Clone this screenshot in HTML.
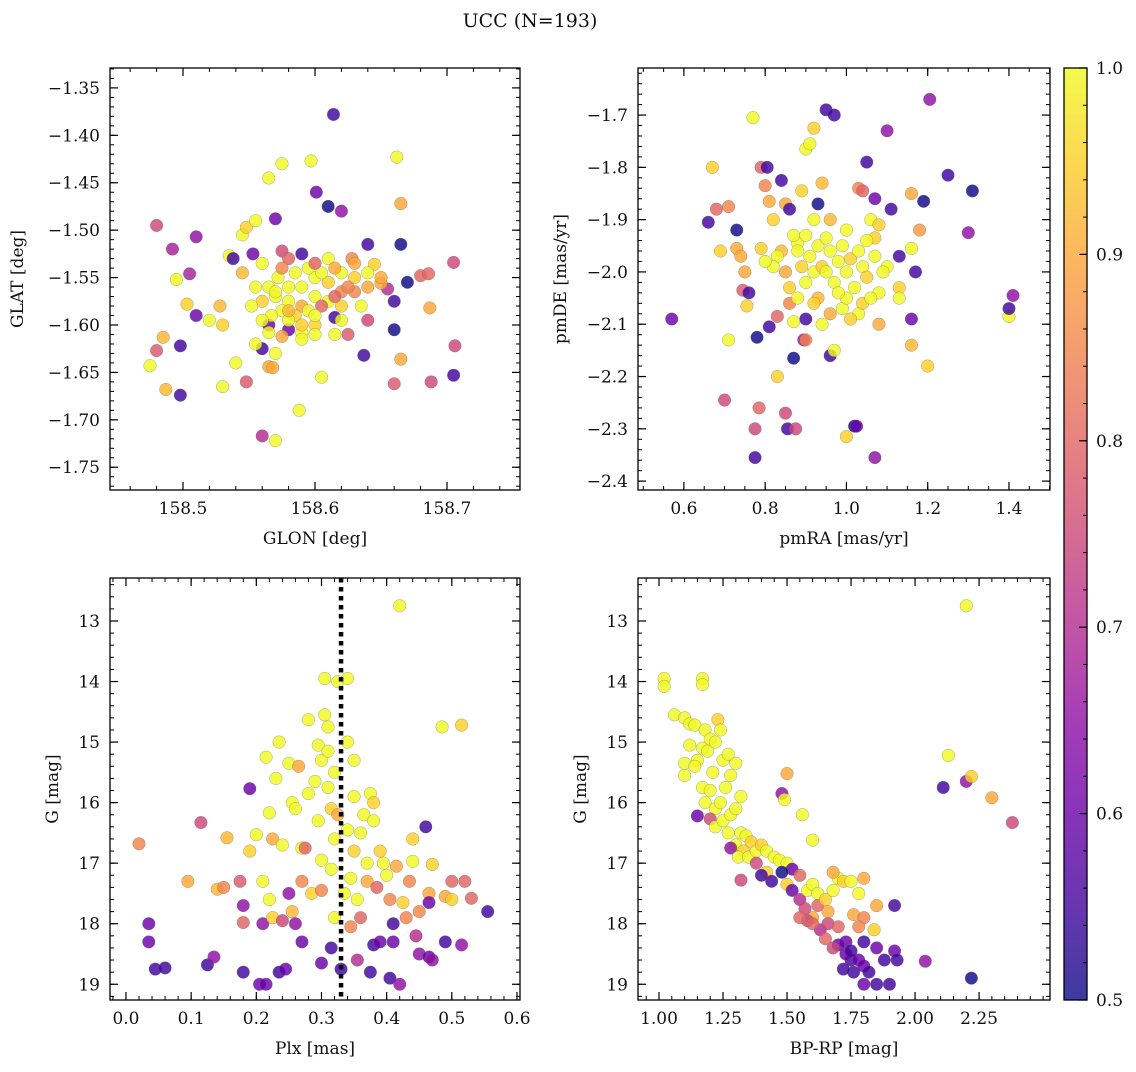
<!DOCTYPE html>
<html><head><meta charset="utf-8"><style>
html,body{margin:0;padding:0;background:#fff;}
svg text{font-family:"DejaVu Serif","Liberation Serif",serif;fill:#111;}
</style></head><body>
<svg id="fig" width="1136" height="1067" viewBox="0 0 1136 1067" xmlns="http://www.w3.org/2000/svg">
<text x="530" y="27" text-anchor="middle" font-size="19">UCC (N=193)</text>
</svg>
<script>
// ---- data ----
const tlPoints = [[158.48,-1.495,.75],[158.614,-1.378,.55],[158.565,-1.445,1],[158.575,-1.43,1],[158.597,-1.427,1],[158.662,-1.423,1],[158.665,-1.472,.9],[158.57,-1.488,.6],[158.601,-1.46,.6],[158.61,-1.475,.5],[158.62,-1.48,.65],[158.64,-1.515,.55],[158.665,-1.515,.5],[158.492,-1.52,.68],[158.51,-1.507,.65],[158.495,-1.552,1],[158.505,-1.546,.68],[158.535,-1.527,1],[158.545,-1.505,1],[158.548,-1.497,.95],[158.555,-1.49,1],[158.538,-1.53,.55],[158.545,-1.545,.92],[158.553,-1.525,.6],[158.575,-1.522,.75],[158.56,-1.535,1],[158.58,-1.53,.8],[158.59,-1.525,.55],[158.61,-1.53,1],[158.628,-1.53,.85],[158.645,-1.536,.95],[158.67,-1.555,.5],[158.68,-1.548,.8],[158.686,-1.546,.8],[158.687,-1.582,.9],[158.705,-1.534,.75],[158.706,-1.622,.75],[158.705,-1.653,.55],[158.688,-1.66,.75],[158.66,-1.662,.78],[158.665,-1.636,.9],[158.66,-1.605,.5],[158.655,-1.562,.7],[158.66,-1.575,.55],[158.64,-1.595,.75],[158.637,-1.632,.55],[158.625,-1.61,.78],[158.615,-1.61,1],[158.615,-1.592,.55],[158.605,-1.655,1],[158.58,-1.605,.6],[158.565,-1.6,.6],[158.56,-1.625,.55],[158.555,-1.62,1],[158.54,-1.64,1],[158.53,-1.6,.95],[158.528,-1.58,.92],[158.52,-1.595,1],[158.51,-1.59,.6],[158.503,-1.578,.95],[158.498,-1.622,.55],[158.498,-1.674,.55],[158.487,-1.668,.92],[158.475,-1.643,1],[158.48,-1.627,.78],[158.485,-1.613,.92],[158.53,-1.665,1],[158.548,-1.66,.78],[158.565,-1.644,.9],[158.568,-1.645,.9],[158.57,-1.63,1],[158.56,-1.717,.7],[158.57,-1.722,1],[158.588,-1.69,1],[158.575,-1.612,.9],[158.565,-1.608,1],[158.59,-1.608,1],[158.6,-1.6,.95],[158.62,-1.58,.95],[158.63,-1.565,.85],[158.64,-1.56,.9],[158.65,-1.556,.9],[158.565,-1.56,1],[158.572,-1.55,1],[158.58,-1.56,1],[158.59,-1.56,1],[158.6,-1.55,1],[158.61,-1.555,.95],[158.62,-1.545,1],[158.63,-1.55,.95],[158.57,-1.57,1],[158.58,-1.575,1],[158.59,-1.58,.9],[158.6,-1.57,1],[158.61,-1.575,1],[158.62,-1.565,.85],[158.575,-1.585,1],[158.585,-1.59,.95],[158.595,-1.585,1],[158.605,-1.58,.8],[158.615,-1.57,.8],[158.625,-1.56,.85],[158.567,-1.59,1],[158.58,-1.595,1],[158.59,-1.6,.95],[158.6,-1.59,1],[158.56,-1.575,.95],[158.555,-1.56,1],[158.575,-1.54,.85],[158.585,-1.545,1],[158.595,-1.54,1],[158.605,-1.545,1],[158.615,-1.54,.9],[158.64,-1.545,1],[158.65,-1.55,.9],[158.552,-1.58,1],[158.56,-1.595,1],[158.6,-1.61,1],[158.59,-1.615,1],[158.62,-1.595,1],[158.635,-1.58,1],[158.57,-1.565,1],[158.58,-1.585,.92],[158.63,-1.535,.9],[158.6,-1.535,.8]];
const trPoints = [[0.57,-2.09,.6],[0.67,-1.8,.95],[0.68,-1.88,.8],[0.66,-1.905,.55],[0.69,-1.96,.95],[0.70,-2.245,.75],[0.71,-2.13,1],[0.71,-1.875,.85],[0.73,-1.92,.5],[0.73,-1.955,.9],[0.74,-1.97,.9],[0.745,-2.035,.78],[0.75,-2.0,.9],[0.755,-2.065,.95],[0.77,-1.705,1],[0.76,-2.04,.55],[0.775,-2.355,.55],[0.775,-2.3,.75],[0.785,-2.26,.8],[0.78,-2.125,.5],[0.79,-1.955,.95],[0.79,-1.8,.8],[0.8,-1.835,.85],[0.805,-1.8,.55],[0.81,-1.865,.9],[0.81,-2.105,.55],[0.82,-1.9,.95],[0.83,-2.085,.8],[0.83,-2.2,.95],[0.84,-1.825,.55],[0.85,-1.87,.9],[0.85,-2.27,.75],[0.855,-2.3,.55],[0.86,-1.88,.55],[0.87,-2.165,.5],[0.875,-2.3,.75],[0.88,-1.945,1],[0.89,-1.845,.95],[0.895,-2.13,.65],[0.9,-2.09,.55],[0.9,-1.765,1],[0.91,-1.755,1],[0.92,-1.725,.95],[0.93,-1.87,.5],[0.94,-1.83,.92],[0.95,-1.69,.55],[0.96,-2.16,.55],[0.97,-1.7,.55],[0.97,-2.15,1],[1.0,-2.315,.95],[1.02,-2.295,.5],[1.025,-2.295,.6],[1.03,-1.84,.85],[1.04,-1.845,.8],[1.05,-1.79,.55],[1.07,-1.935,.95],[1.07,-1.86,.6],[1.07,-2.355,.65],[1.1,-1.73,.65],[1.11,-1.88,.55],[1.1,-1.99,1],[1.13,-1.97,.55],[1.16,-1.85,.9],[1.16,-1.955,1],[1.16,-2.09,.6],[1.16,-2.14,.92],[1.17,-2.0,.55],[1.18,-1.92,.88],[1.19,-1.865,.5],[1.2,-2.18,.95],[1.205,-1.67,.65],[1.25,-1.815,.55],[1.3,-1.925,.65],[1.31,-1.845,.5],[1.4,-2.085,1],[1.4,-2.07,.55],[1.41,-2.045,.65],[0.93,-2.05,.92],[0.86,-2.03,.95],[0.86,-2.06,.85],[0.87,-2.095,1],[0.9,-2.13,.85],[1.13,-2.03,.95],[1.13,-2.05,1],[1.08,-2.04,1],[1.08,-2.1,.9],[0.87,-1.93,1],[0.88,-1.96,1],[0.89,-1.99,.95],[0.9,-1.93,1],[0.91,-1.97,1],[0.92,-2.0,1],[0.93,-1.95,1],[0.94,-1.99,.95],[0.95,-1.935,1],[0.96,-1.96,1],[0.97,-2.02,1],[0.98,-1.98,1],[0.99,-1.95,1],[1.0,-2.0,1],[1.01,-1.975,.95],[1.02,-2.03,1],[1.03,-1.96,1],[1.04,-1.99,1],[1.05,-2.01,.95],[1.06,-1.9,1],[1.07,-1.97,1],[1.03,-2.08,1],[1.01,-2.09,.95],[0.99,-2.07,1],[0.96,-2.08,.9],[0.94,-2.1,1],[0.92,-2.06,.95],[0.9,-2.02,1],[0.85,-2.0,.9],[0.84,-1.96,.92],[0.83,-1.97,1],[0.82,-1.99,1],[0.8,-1.98,1],[0.92,-1.9,1],[0.96,-1.9,.92],[1.0,-1.92,1],[1.05,-1.94,1],[1.08,-1.91,.95],[1.0,-2.05,1],[1.04,-2.06,.95],[0.98,-2.04,1],[0.95,-2.0,1],[0.88,-2.05,1],[1.06,-2.05,1],[1.09,-2.0,1]];
const blPoints = [[0.02,16.68,.85],[0.035,18.0,.6],[0.035,18.3,.6],[0.045,18.75,.55],[0.06,18.73,.55],[0.095,17.3,.9],[0.115,16.33,.75],[0.125,18.68,.55],[0.135,18.55,.65],[0.14,17.43,.92],[0.15,17.4,.85],[0.155,16.58,.92],[0.175,17.3,.78],[0.18,17.7,.65],[0.18,17.98,.8],[0.18,18.8,.55],[0.19,15.77,.6],[0.19,16.8,.95],[0.2,16.53,1],[0.205,19.0,.6],[0.21,17.3,1],[0.21,18.0,.65],[0.215,15.25,1],[0.215,19.0,.6],[0.22,16.17,1],[0.22,17.6,1],[0.225,17.9,.95],[0.225,16.6,.9],[0.23,15.6,1],[0.235,18.8,.55],[0.235,15.0,1],[0.24,16.7,1],[0.24,17.95,.75],[0.245,18.75,.6],[0.25,15.35,1],[0.25,17.5,.65],[0.255,16.0,1],[0.255,17.8,.92],[0.26,16.1,1],[0.26,18.0,.65],[0.265,15.4,.9],[0.27,16.75,1],[0.27,17.3,.85],[0.275,16.75,.8],[0.28,14.63,1],[0.28,15.85,1],[0.285,17.5,.95],[0.29,15.65,1],[0.295,15.05,1],[0.295,16.3,1],[0.3,15.3,1],[0.3,16.95,1],[0.3,17.45,.85],[0.3,18.65,.6],[0.305,13.95,1],[0.305,14.55,1],[0.31,14.75,1],[0.31,15.15,1],[0.31,15.75,1],[0.315,16.1,.95],[0.315,17.1,1],[0.315,18.4,.55],[0.32,15.5,1],[0.32,16.6,1],[0.32,17.9,1],[0.325,14.0,1],[0.325,16.2,.9],[0.33,18.75,.55],[0.335,17.5,1],[0.34,13.95,1],[0.34,15.0,1],[0.34,16.45,1],[0.345,17.25,1],[0.345,18.05,.85],[0.35,15.3,1],[0.35,15.9,1],[0.35,16.8,.95],[0.355,17.6,1],[0.355,18.6,.7],[0.36,16.5,1],[0.36,17.9,.8],[0.365,16.2,1],[0.37,17.0,1],[0.37,17.3,.9],[0.375,15.85,1],[0.375,18.8,.55],[0.38,16.0,.95],[0.38,16.3,1],[0.38,18.35,.55],[0.385,17.4,.8],[0.39,18.3,.6],[0.39,16.8,.95],[0.395,17.0,1],[0.4,17.2,1],[0.405,17.6,.85],[0.405,18.9,.55],[0.41,18.0,.55],[0.41,18.3,.6],[0.415,17.05,.9],[0.42,19.0,.65],[0.42,12.75,1],[0.425,17.65,.95],[0.43,17.9,.85],[0.435,17.3,.85],[0.44,16.6,.95],[0.44,16.97,1],[0.445,18.2,.7],[0.45,18.5,.65],[0.46,16.4,.55],[0.465,17.5,.9],[0.465,17.65,.6],[0.465,18.55,.6],[0.47,17.02,.95],[0.47,18.6,.65],[0.485,14.75,1],[0.49,17.55,.9],[0.49,18.3,.55],[0.5,17.3,.8],[0.515,14.72,.95],[0.515,18.35,.65],[0.52,17.3,.8],[0.53,17.58,.8],[0.555,17.8,.55],[0.5,17.6,.95],[0.45,17.8,.85],[0.27,18.3,.6]];
const brPoints = [[1.02,13.95,1],[1.02,14.08,1],[1.06,14.55,1],[1.1,14.6,1],[1.12,14.7,1],[1.14,14.72,1],[1.17,13.95,1],[1.17,14.05,1],[1.18,14.8,1],[1.12,15.05,1],[1.15,15.3,1],[1.1,15.35,1],[1.1,15.55,1],[1.14,15.4,1],[1.17,15.1,1],[1.19,15.15,1],[1.2,14.95,1],[1.22,15.0,1],[1.23,14.63,.95],[1.24,14.8,1],[1.21,15.5,1],[1.25,15.3,1],[1.27,15.2,1],[1.28,15.55,1],[1.3,15.35,1],[1.17,15.75,1],[1.18,16.0,1],[1.2,15.8,1],[1.22,16.1,1],[1.24,16.0,1],[1.26,15.75,1],[1.15,16.22,.6],[1.2,16.27,.75],[1.22,16.4,1],[1.25,16.3,1],[1.28,16.2,1],[1.3,16.1,1],[1.32,15.9,1],[1.27,16.5,1],[1.3,16.7,1],[1.32,16.5,1],[1.34,16.55,1],[1.36,16.65,.95],[1.33,16.8,.95],[1.28,16.75,.65],[1.31,16.9,1],[1.35,16.9,1],[1.38,16.8,1],[1.4,16.7,.95],[1.42,16.8,1],[1.45,16.9,1],[1.47,16.95,1],[1.48,15.85,.65],[1.49,15.95,1],[1.5,15.52,.9],[1.5,17.0,1],[1.52,17.1,.6],[1.55,17.2,.8],[1.56,16.2,1],[1.6,16.62,1],[1.38,17.0,.75],[1.42,17.15,.95],[1.44,17.3,.55],[1.32,17.28,.75],[1.4,17.2,.55],[1.48,17.15,.5],[1.5,17.35,.95],[1.52,17.45,.6],[1.55,17.6,.7],[1.58,17.45,1],[1.6,17.35,1],[1.62,17.5,1],[1.62,17.7,.8],[1.6,17.9,.9],[1.58,17.95,.75],[1.57,17.75,.75],[1.65,17.6,.95],[1.66,17.8,.9],[1.68,17.45,1],[1.7,17.25,1],[1.72,17.3,.95],[1.68,17.15,.9],[1.75,17.3,1],[1.78,17.5,1],[1.8,17.25,.9],[1.85,17.7,.9],[1.92,17.7,.55],[1.76,17.85,.9],[1.8,17.9,.85],[1.63,18.1,.7],[1.66,18.0,.75],[1.7,18.05,.8],[1.73,18.3,.6],[1.78,18.05,.85],[1.8,18.3,.55],[1.84,18.1,.95],[1.85,18.4,.6],[1.7,18.35,.6],[1.75,18.6,.55],[1.78,18.6,.6],[1.76,18.8,.55],[1.8,18.7,.6],[1.8,19.0,.6],[1.82,18.8,.55],[1.85,19.0,.55],[1.9,19.0,.55],[1.88,18.6,.55],[1.92,18.45,.6],[1.93,18.6,.55],[1.72,18.75,.55],[1.68,18.4,.75],[1.65,18.25,.8],[2.04,18.62,.65],[2.22,18.9,.5],[2.2,12.75,1],[2.13,15.22,1],[2.11,15.75,.55],[2.2,15.65,.65],[2.22,15.57,.95],[2.3,15.92,.9],[2.38,16.33,.75],[1.55,17.9,.8],[1.6,18.0,.8],[1.73,18.5,.6],[1.75,18.45,.55]];
const tlXTicks = [158.5,158.6,158.7];
const tlYTicks = [-1.35,-1.40,-1.45,-1.50,-1.55,-1.60,-1.65,-1.70,-1.75];
const trXTicks = [0.6,0.8,1.0,1.2,1.4];
const trYTicks = [-1.7,-1.8,-1.9,-2.0,-2.1,-2.2,-2.3,-2.4];
const blXTicks = [0.0,0.1,0.2,0.3,0.4,0.5,0.6];
const gTicks = [13,14,15,16,17,18,19];
const brXTicks = [1.00,1.25,1.50,1.75,2.00,2.25];
const cbTicks = [0.5,0.6,0.7,0.8,0.9,1.0];
const plxLine = [0.33];

const NS="http://www.w3.org/2000/svg";
const svg=document.getElementById('fig');
function mk(tag,attrs,parent){const e=document.createElementNS(NS,tag);for(const k in attrs)e.setAttribute(k,attrs[k]);(parent||svg).appendChild(e);return e;}
const stops=['#0d0887','#41049d','#6a00a8','#8f0da4','#b12a90','#cc4778','#e16462','#f2844b','#fca636','#fcce25','#f0f921'];
function hex(h){return [parseInt(h.substr(1,2),16),parseInt(h.substr(3,2),16),parseInt(h.substr(5,2),16)];}
function plasma(t){t=Math.max(0,Math.min(1,t));const f=t*10,i=Math.min(9,Math.floor(f)),r=f-i;const a=hex(stops[i]),b=hex(stops[i+1]);return 'rgb('+a.map((v,k)=>Math.round(v+(b[k]-v)*r)).join(',')+')';}
function cmap(p){return plasma((p-0.5)/0.5);}
function fmt(v,d){return (v<0?'\u2212':'')+Math.abs(v).toFixed(d);}
const TF=17, LF=17;

function panel(o){
  const g=mk('g',{});
  
  
  const X=v=>o.x0+(v-o.xmin)/(o.xmax-o.xmin)*(o.x1-o.x0);
  const Y=v=>o.y0+(v-o.ymin)/(o.ymax-o.ymin)*(o.y1-o.y0);
  const pg=mk('g',{},g);
  
  
  o.pts.forEach(d=>{
    const c=mk('circle',{cx:X(d[0]),cy:Y(d[1]),r:6.3,fill:cmap(d[2]),'fill-opacity':0.82,stroke:'#666','stroke-width':0.4,'stroke-opacity':0.7},pg);
    
    
  });
  if(o.vline){o.vline.forEach(v=>{const l=mk('line',{x1:X(v),x2:X(v),y1:o.y0,y2:o.y1,stroke:'#000','stroke-width':4.5,'stroke-dasharray':'4.5,4.5'},g);
    
    });}
  const fr=mk('rect',{x:o.x0,y:o.y0,width:o.x1-o.x0,height:o.y1-o.y0,fill:'none',stroke:'#000','stroke-width':1.3},g);
  
  
  const lo=Math.min(o.xmin,o.xmax),hi=Math.max(o.xmin,o.xmax);
  for(let v=Math.ceil(lo/o.xminor-1e-6)*o.xminor;v<=hi+1e-9;v+=o.xminor){const px=X(v);mk('line',{x1:px,x2:px,y1:o.y1,y2:o.y1-4,stroke:'#000','stroke-width':1},g);mk('line',{x1:px,x2:px,y1:o.y0,y2:o.y0+4,stroke:'#000','stroke-width':1},g);}
  const ylo=Math.min(o.ymin,o.ymax),yhi=Math.max(o.ymin,o.ymax);
  for(let v=Math.ceil(ylo/o.yminor-1e-6)*o.yminor;v<=yhi+1e-9;v+=o.yminor){const py=Y(v);mk('line',{x1:o.x0,x2:o.x0+4,y1:py,y2:py,stroke:'#000','stroke-width':1},g);mk('line',{x1:o.x1,x2:o.x1-4,y1:py,y2:py,stroke:'#000','stroke-width':1},g);}
  o.xt.forEach(v=>{const px=X(v);mk('line',{x1:px,x2:px,y1:o.y1,y2:o.y1-8,stroke:'#000','stroke-width':1.2},g);mk('line',{x1:px,x2:px,y1:o.y0,y2:o.y0+8,stroke:'#000','stroke-width':1.2},g);
    const t=mk('text',{x:px,y:o.y1+24,'text-anchor':'middle','font-size':TF},g);t.textContent=fmt(v,o.xd);
    
    });
  o.yt.forEach(v=>{const py=Y(v);mk('line',{x1:o.x0,x2:o.x0+8,y1:py,y2:py,stroke:'#000','stroke-width':1.2},g);mk('line',{x1:o.x1,x2:o.x1-8,y1:py,y2:py,stroke:'#000','stroke-width':1.2},g);
    const t=mk('text',{x:o.x0-10,y:py+6,'text-anchor':'end','font-size':TF},g);t.textContent=fmt(v,o.yd);
    
    });
  const xl=mk('text',{x:(o.x0+o.x1)/2,y:o.y1+54,'text-anchor':'middle','font-size':LF},g);xl.textContent=o.xlabel;
  
  
  const yl=mk('text',{x:o.ylx,y:(o.y0+o.y1)/2,'text-anchor':'middle','font-size':LF,transform:'rotate(-90 '+o.ylx+' '+(o.y0+o.y1)/2+')'},g);yl.textContent=o.ylabel;
  
  
}
panel({name:'glon-glat-panel',pts:tlPoints,x0:110,x1:520,y0:68,y1:490,xmin:158.4447,xmax:158.7553,ymin:-1.329,ymax:-1.774,xt:tlXTicks,yt:tlYTicks,xminor:0.02,yminor:0.01,xd:1,yd:2,xlabel:'GLON [deg]',ylabel:'GLAT [deg]',ylx:23});
panel({name:'proper-motion-panel',pts:trPoints,x0:638,x1:1050,y0:68,y1:490,xmin:0.487,xmax:1.501,ymin:-1.610,ymax:-2.417,xt:trXTicks,yt:trYTicks,xminor:0.05,yminor:0.02,xd:1,yd:1,xlabel:'pmRA [mas/yr]',ylabel:'pmDE [mas/yr]',ylx:566});
panel({name:'parallax-magnitude-panel',pts:blPoints,vline:plxLine,x0:110,x1:520,y0:578,y1:1000,xmin:-0.0245,xmax:0.6046,ymin:12.29,ymax:19.26,xt:blXTicks,yt:gTicks,xminor:0.02,yminor:0.2,xd:1,yd:0,xlabel:'Plx [mas]',ylabel:'G [mag]',ylx:58});
panel({name:'color-magnitude-panel',pts:brPoints,x0:638,x1:1050,y0:578,y1:1000,xmin:0.918,xmax:2.527,ymin:12.29,ymax:19.26,xt:brXTicks,yt:gTicks,xminor:0.05,yminor:0.2,xd:2,yd:0,xlabel:'BP-RP [mag]',ylabel:'G [mag]',ylx:586});

const cb=mk('g',{});


const defs=mk('defs',{},cb);const lg=mk('linearGradient',{id:'cbg',x1:0,y1:1,x2:0,y2:0},defs);
stops.forEach((s,i)=>mk('stop',{offset:i/10,'stop-color':s,'stop-opacity':0.8},lg));
const cx0=1064,cx1=1087,cy0=68,cy1=1000;
mk('rect',{x:cx0,y:cy0,width:cx1-cx0,height:cy1-cy0,fill:'url(#cbg)',stroke:'#000','stroke-width':1.3},cb);
const CY=v=>cy1-(v-0.5)/0.5*(cy1-cy0);
for(let v=0.5;v<=1.0001;v+=0.02){mk('line',{x1:cx1,x2:cx1-4,y1:CY(v),y2:CY(v),stroke:'#000','stroke-width':1},cb);}
cbTicks.forEach(v=>{mk('line',{x1:cx1,x2:cx1-8,y1:CY(v),y2:CY(v),stroke:'#000','stroke-width':1.2},cb);
  const t=mk('text',{x:cx1+9,y:CY(v)+6,'font-size':TF},cb);t.textContent=v.toFixed(1);
  
  });
</script>
</body></html>
